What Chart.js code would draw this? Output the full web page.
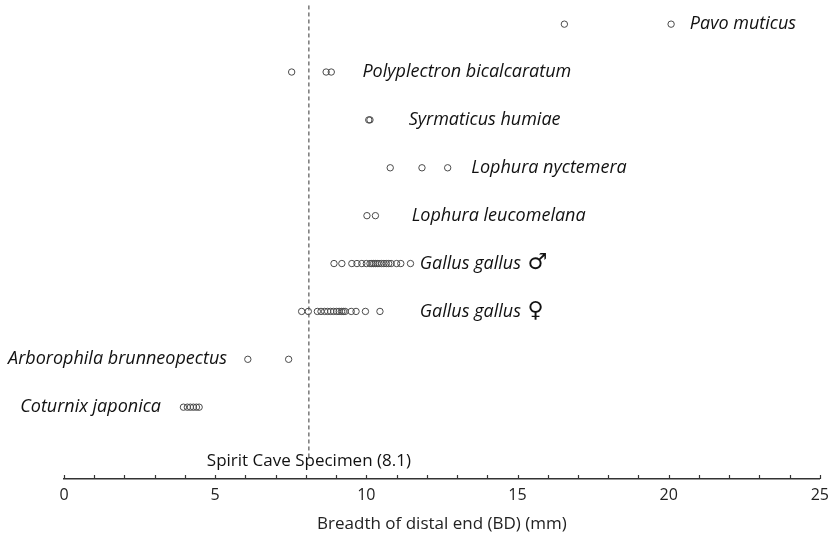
<!DOCTYPE html>
<html>
<head>
<meta charset="utf-8">
<script src="https://cdn.jsdelivr.net/npm/chart.js@4/dist/chart.umd.min.js"></script>
<style>
html,body{margin:0;padding:0;background:#fff;}
#wrap{width:836px;height:537px;position:relative;}
</style>
</head>
<body>
<div id="wrap"><canvas id="c" width="836" height="537"></canvas></div>
<script>
// ---- data ----
const speciesLabels = ['Pavo muticus','Polyplectron bicalcaratum','Syrmaticus humiae','Lophura nyctemera','Lophura leucomelana','Gallus gallus \u2642','Gallus gallus \u2640','Arborophila brunneopectus','Coturnix japonica'];
const rowIndex = [9,8,7,6,5,4,3,2,1];
const pavoMuticus = [16.55, 20.08];
const polyplectron = [7.53, 8.67, 8.84];
const syrmaticus = [10.08, 10.12];
const lophuraNyctemera = [10.79, 11.84, 12.69];
const lophuraLeucomelana = [10.02, 10.30];
const gallusMale = [8.93, 9.19, 9.52, 9.69, 9.85, 10.0, 10.12, 10.18, 10.24, 10.3, 10.36, 10.42, 10.5, 10.58, 10.66, 10.74, 10.82, 11.0, 11.14, 11.46];
const gallusFemale = [7.86, 8.08, 8.38, 8.5, 8.62, 8.72, 8.82, 8.92, 9.02, 9.1, 9.18, 9.24, 9.3, 9.5, 9.66, 9.97, 10.45];
const arborophila = [6.08, 7.43];
const coturnix = [3.95, 4.08, 4.18, 4.28, 4.38, 4.47];
const xTicks = [0, 5, 10, 15, 20, 25];
const specimenValue = 8.1;
const specimenLabel = 'Spirit Cave Specimen (8.1)';
const xTitle = 'Breadth of distal end (BD) (mm)';

// label anchors (x in axis units, left edge of text)
const labelAnchorX = [20.7, 9.87, 11.4, 13.47, 11.5, 11.77, 11.77, -1.85, -1.45];

const seriesValues = [pavoMuticus, polyplectron, syrmaticus, lophuraNyctemera, lophuraLeucomelana, gallusMale, gallusFemale, arborophila, coturnix];

const datasets = seriesValues.map((vals, i) => ({
  type: 'scatter',
  label: speciesLabels[i],
  data: vals.map(v => ({x: v, y: rowIndex[i]})),
  pointRadius: 3.2,
  pointBorderWidth: 1,
  pointBorderColor: '#4a4a4a',
  pointBackgroundColor: 'rgba(0,0,0,0)',
  pointStyle: 'circle'
}));
datasets.push({
  type: 'line',
  label: 'specimen',
  data: [{x: specimenValue, y: -0.05}, {x: specimenValue, y: 9.4}],
  borderColor: '#333',
  borderWidth: 1,
  borderDash: [4, 3],
  pointRadius: 0,
  fill: false
});

const symbolRe = /^(.*?)\s*([\u2640\u2642])$/;

const labelPlugin = {
  id: 'labels',
  afterDatasetsDraw(chart) {
    const ctx = chart.ctx;
    const xs = chart.scales.x, ys = chart.scales.y;
    ctx.save();
    ctx.fillStyle = '#111';
    ctx.textBaseline = 'middle';
    ctx.textAlign = 'left';
    speciesLabels.forEach((t, i) => {
      const px = xs.getPixelForValue(labelAnchorX[i]);
      const py = ys.getPixelForValue(rowIndex[i]);
      const m = t.match(symbolRe);
      ctx.font = 'italic 18px "Open Sans"';
      if (m) {
        ctx.fillText(m[1], px, py);
        const w = ctx.measureText(m[1] + ' ').width;
        ctx.font = 'bold 22px "DejaVu Sans"';
        ctx.fillText(m[2], px + w + 2, py);
      } else {
        ctx.fillText(t, px, py);
      }
    });
    ctx.font = '17px "Open Sans"';
    ctx.textAlign = 'center';
    ctx.fillText(specimenLabel, xs.getPixelForValue(specimenValue), ys.getPixelForValue(-0.12));
    // minor ticks, pointing up from the axis line
    ctx.strokeStyle = '#333';
    ctx.lineWidth = 1.2;
    const yb = chart.chartArea.bottom;
    for (let v = 0; v <= 25; v++) {
      const px = Math.round(xs.getPixelForValue(v)) + 0.5;
      ctx.beginPath();
      ctx.moveTo(px, yb);
      ctx.lineTo(px, yb - 4);
      ctx.stroke();
    }
    ctx.restore();
  }
};

new Chart(document.getElementById('c'), {
  data: { datasets },
  options: {
    responsive: false,
    animation: false,
    events: [],
    layout: { padding: { left: 64, right: 15, top: 5, bottom: 0 } },
    plugins: { legend: { display: false }, tooltip: { enabled: false } },
    scales: {
      x: {
        type: 'linear',
        min: 0, max: 25,
        afterBuildTicks(s) { s.ticks = xTicks.map(v => ({value: v})); },
        afterFit(s) { s.height = 58; },
        grid: { display: false, drawTicks: false },
        border: { display: true, color: '#333', width: 1.5 },
        ticks: { padding: 7, color: '#222', font: { family: 'Open Sans', size: 16 } },
        title: { display: true, text: xTitle, color: '#222', font: { family: 'Open Sans', size: 17 }, padding: { top: 4, bottom: 3 } }
      },
      y: {
        type: 'linear',
        min: -0.5, max: 9.4,
        display: false
      }
    }
  },
  plugins: [labelPlugin]
});
</script>
</body>
</html>
